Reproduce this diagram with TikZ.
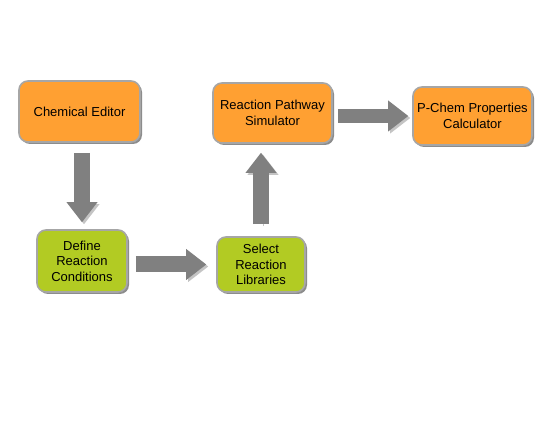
\documentclass[tikz,border=0pt]{standalone}
\usepackage{fontspec}
\setmainfont{Liberation Sans}
\usepackage{tikz}
\usetikzlibrary{arrows.meta,shadows}
\definecolor{boxorange}{HTML}{FFA032}
\definecolor{boxgreen}{HTML}{B2CB23}
\definecolor{boxline}{HTML}{A6A6A6}
\definecolor{arrowgray}{HTML}{808080}
\definecolor{shadowgray}{HTML}{C4C4C4}

\begin{document}
\begin{tikzpicture}[
    x=1pt, y=-1pt,
    font=\fontsize{13}{15.5}\selectfont,
    stage/.style={draw=boxline, line width=1.6pt, rounded corners=9pt,
        align=center, inner sep=3pt,
        drop shadow={shadow xshift=2pt, shadow yshift=-2pt, fill=black!45, opacity=1}},
    orangebox/.style={stage, fill=boxorange},
    greenbox/.style={stage, fill=boxgreen},
    flow/.style={draw=arrowgray, line width=16pt,
        -{Triangle[length=20pt, width=31pt, line width=0pt]},
        preaction={draw=shadowgray, transform canvas={shift={(2pt,-2pt)}}}}
]
\useasboundingbox[fill=white] (0,0) rectangle (550,425);
\node[orangebox, minimum width=121pt, minimum height=61pt] (chem) at (79.5,111.5)
    {Chemical Editor};
\node[greenbox, minimum width=90pt, minimum height=62pt] (define) at (82,261)
    {Define\\Reaction\\Conditions};
\node[greenbox, minimum width=88pt, minimum height=55pt] (select) at (261,264.5)
    {Select\\Reaction\\Libraries};
\node[orangebox, minimum width=119pt, minimum height=60pt] (pathway) at (272.5,113)
    {Reaction Pathway\\Simulator};
\node[orangebox, minimum width=119pt, minimum height=58pt] (pchem) at (472.5,116)
    {P-Chem Properties\\Calculator};
\draw[flow] ([yshift=-10pt]chem.south -| define.north) -- ([yshift=7pt]define.north);
\draw[flow] ([xshift=8pt]define.east |- select.west) -- ([xshift=-10pt]select.west);
\draw[flow] ([yshift=12pt]select.north) -- ([yshift=-9pt]pathway.south -| select.north);
\draw[flow, line width=14pt] ([xshift=5pt]pathway.east |- pchem.west) -- ([xshift=-4pt]pchem.west);
\end{tikzpicture}
\end{document}
